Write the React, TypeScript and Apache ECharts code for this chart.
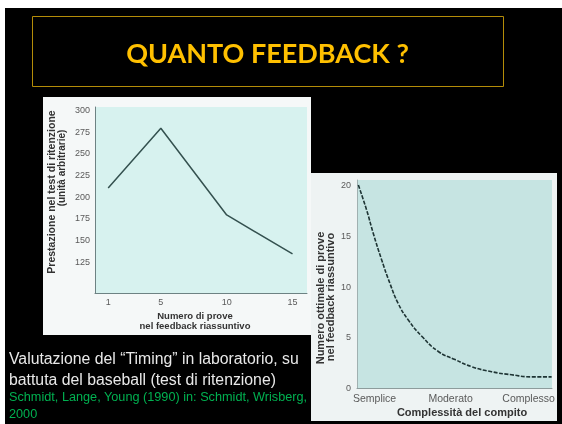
import { useEffect, useRef } from "react";
import * as echarts from "echarts";

// Left chart: summary-KR length vs retention score
const leftTrials = [1, 5, 10, 15];
const leftScores = [210, 279, 179, 134];
const leftYTicks = [125, 150, 175, 200, 225, 250, 275, 300];

// Right chart: optimal summary length vs task complexity
const rightX = [0.7, 5, 8.4, 12.7, 16.9, 21.2, 26.3, 33.2, 41.7, 50.3, 58.8, 69.1, 79.3, 89.6, 99.8];
const rightY = [20, 17.5, 15.2, 12.6, 10.3, 8.3, 6.7, 5.1, 3.6, 2.8, 2.1, 1.6, 1.3, 1.1, 1.1];
const complexityLabels = ["Semplice", "Moderato", "Complesso"];
const complexityPos = [9, 48, 88];
const rightYTicks = [0, 5, 10, 15, 20];

const FONT = "Liberation Sans";

export default function App() {
  const ref = useRef<HTMLDivElement>(null);
  useEffect(() => {
    if (!ref.current) return;
    const chart = echarts.init(ref.current, undefined, { renderer: "svg" });
    const axisLabelBase = { fontSize: 9, color: "#5a5a5a", fontFamily: FONT };
    chart.setOption({
      animation: false,
      grid: [
        { left: 95, top: 107, width: 212, height: 186, show: true, backgroundColor: "#d7f2ef", borderWidth: 0 },
        { left: 357, top: 180, width: 195, height: 208, show: true, backgroundColor: "#c6e4e2", borderWidth: 0 },
      ],
      xAxis: [
        {
          gridIndex: 0, type: "value", min: 0, max: 16.1,
          axisLine: { show: true, lineStyle: { color: "#6d8283", width: 1 } },
          axisTick: { show: false }, splitLine: { show: false },
          axisLabel: { ...axisLabelBase, customValues: leftTrials, margin: 4 },
        },
        {
          gridIndex: 1, type: "value", min: 0, max: 100,
          axisLine: { show: true, lineStyle: { color: "#8d9c9c", width: 1 } },
          axisTick: { show: false }, splitLine: { show: false },
          axisLabel: {
            ...axisLabelBase, fontSize: 10.5, customValues: complexityPos, margin: 4,
            formatter: (v: number) => complexityLabels[complexityPos.indexOf(v)] ?? "",
          },
        },
      ],
      yAxis: [
        {
          gridIndex: 0, type: "value", min: 89, max: 303.5,
          axisLine: { show: true, lineStyle: { color: "#6d8283", width: 1 } },
          axisTick: { show: false }, splitLine: { show: false },
          axisLabel: { ...axisLabelBase, customValues: leftYTicks, margin: 5 },
        },
        {
          gridIndex: 1, type: "value", min: 0, max: 20.5,
          axisLine: { show: true, lineStyle: { color: "#a0b0b0", width: 1 } },
          axisTick: { show: false }, splitLine: { show: false },
          axisLabel: { ...axisLabelBase, customValues: rightYTicks, margin: 6 },
        },
      ],
      series: [
        {
          type: "line", xAxisIndex: 0, yAxisIndex: 0,
          data: leftTrials.map((t, i) => [t, leftScores[i]]),
          showSymbol: false,
          lineStyle: { color: "#34514f", width: 1.5 },
        },
        {
          type: "line", xAxisIndex: 1, yAxisIndex: 1,
          data: rightX.map((x, i) => [x, rightY[i]]),
          smooth: true, showSymbol: false,
          lineStyle: { color: "#1e3434", width: 1.6, type: [4, 1.5] },
        },
      ],
      graphic: [
        { type: "rect", z: -30, shape: { x: 5, y: 8, width: 557, height: 416 }, style: { fill: "#000000" } },
        { type: "rect", z: -20, shape: { x: 32.5, y: 16.5, width: 471, height: 70 }, style: { fill: "none", stroke: "#b48c08", lineWidth: 1 } },
        { type: "rect", z: -20, shape: { x: 43, y: 97, width: 268, height: 238 }, style: { fill: "#f5f8f8" } },
        { type: "rect", z: -20, shape: { x: 311, y: 173, width: 246, height: 248 }, style: { fill: "#eef3f3" } },
        {
          type: "text", z: 10, x: 267.5, y: 52,
          style: { text: "QUANTO FEEDBACK ?", fill: "#FFC000", font: "bold 27px Lato", textAlign: "center", textVerticalAlign: "middle" },
        },
        {
          type: "text", z: 10, x: 51, y: 192, rotation: Math.PI / 2,
          style: { text: "Prestazione nel test di ritenzione", fill: "#333333", font: `bold 10.5px "${FONT}"`, textAlign: "center", textVerticalAlign: "middle" },
        },
        {
          type: "text", z: 10, x: 61, y: 168, rotation: Math.PI / 2,
          style: { text: "(unità arbitrarie)", fill: "#333333", font: `bold 10px "${FONT}"`, textAlign: "center", textVerticalAlign: "middle" },
        },
        {
          type: "text", z: 10, x: 195, y: 315,
          style: { text: "Numero di prove", fill: "#333333", font: `bold 9.5px "${FONT}"`, textAlign: "center", textVerticalAlign: "middle" },
        },
        {
          type: "text", z: 10, x: 195, y: 325.5,
          style: { text: "nel feedback riassuntivo", fill: "#333333", font: `bold 9.5px "${FONT}"`, textAlign: "center", textVerticalAlign: "middle" },
        },
        {
          type: "text", z: 10, x: 319.5, y: 298, rotation: Math.PI / 2,
          style: { text: "Numero ottimale di prove", fill: "#333333", font: `bold 11px "${FONT}"`, textAlign: "center", textVerticalAlign: "middle" },
        },
        {
          type: "text", z: 10, x: 330, y: 297, rotation: Math.PI / 2,
          style: { text: "nel feedback riassuntivo", fill: "#333333", font: `bold 11px "${FONT}"`, textAlign: "center", textVerticalAlign: "middle" },
        },
        {
          type: "text", z: 10, x: 462, y: 412,
          style: { text: "Complessità del compito", fill: "#333333", font: `bold 11px "${FONT}"`, textAlign: "center", textVerticalAlign: "middle" },
        },
        {
          type: "text", z: 10, x: 9, y: 358,
          style: { text: "Valutazione del \u201CTiming\u201D in laboratorio, su", fill: "#e8e8e8", font: `15.8px "${FONT}"`, textAlign: "left", textVerticalAlign: "middle" },
        },
        {
          type: "text", z: 10, x: 9, y: 379,
          style: { text: "battuta del baseball (test di ritenzione)", fill: "#e8e8e8", font: `15.8px "${FONT}"`, textAlign: "left", textVerticalAlign: "middle" },
        },
        {
          type: "text", z: 10, x: 9, y: 396.5,
          style: { text: "Schmidt, Lange, Young (1990) in: Schmidt, Wrisberg,", fill: "#00b050", font: `12.7px "${FONT}"`, textAlign: "left", textVerticalAlign: "middle" },
        },
        {
          type: "text", z: 10, x: 9, y: 414,
          style: { text: "2000", fill: "#00b050", font: `12.7px "${FONT}"`, textAlign: "left", textVerticalAlign: "middle" },
        },
      ],
    });
    return () => chart.dispose();
  }, []);
  return <div ref={ref} style={{ position: "fixed", left: 0, top: 0, width: 562, height: 424 }} />;
}
